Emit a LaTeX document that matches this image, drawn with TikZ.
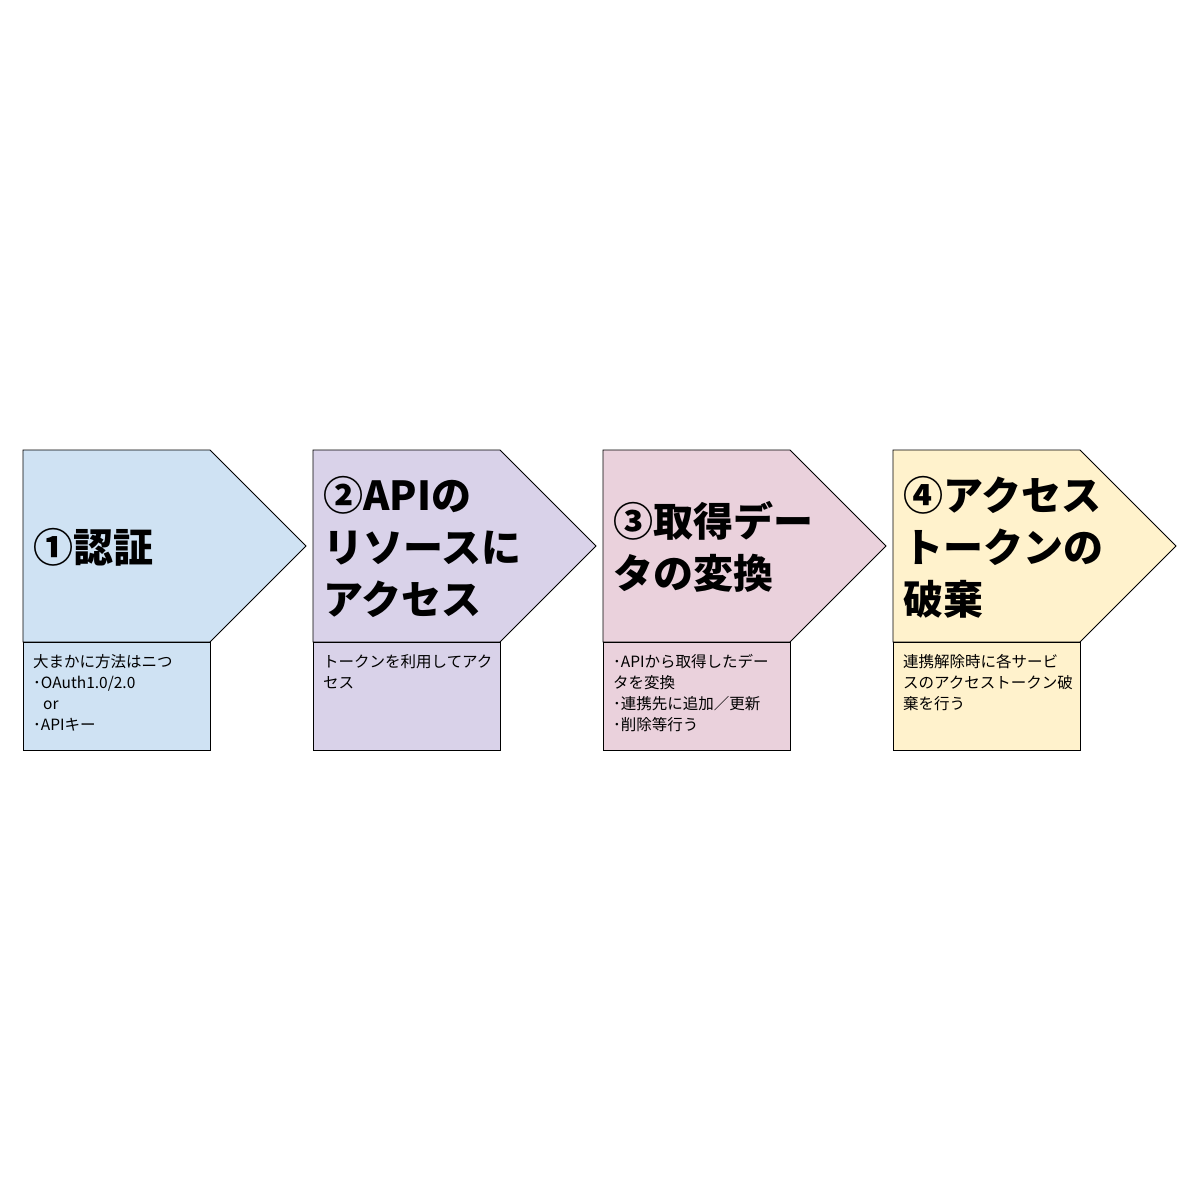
\documentclass[tikz,border=0pt]{standalone}
\usepackage{fontspec}
\setmainfont{Noto Sans CJK JP}
\usetikzlibrary{positioning}

\definecolor{stepblue}{HTML}{CFE2F3}
\definecolor{steppurple}{HTML}{D9D2E9}
\definecolor{steppink}{HTML}{EAD1DC}
\definecolor{stepyellow}{HTML}{FFF2CC}

\begin{document}
\begin{tikzpicture}[x=1pt,y=-1pt,
	stepshape/.style={draw=black, line width=0.8pt, line join=miter},
	headtext/.style={inner sep=0pt, anchor=west, align=left,
		font=\fontsize{40}{52}\selectfont\bfseries},
	bodytext/.style={inner sep=0pt, anchor=north west, align=left,
		font=\fontsize{15.5}{21}\selectfont}]
	\useasboundingbox (0,0) rectangle (1200,1200);
	\fill [white] (0,0) rectangle (1200,1200);
	% four steps, left to right
	\foreach \i/\x/\col/\head/\body in {
		1/23/stepblue/{①認証}/{大まかに方法はニつ\\･OAuth1.0/2.0\\\hspace*{10pt}or\\･APIキー},
		2/313/steppurple/{②APIの\\リソースに\\アクセス}/{トークンを利用してアク\\セス},
		3/603/steppink/{③取得デー\\タの変換}/{･APIから取得したデー\\タを変換\\･連携先に追加／更新\\･削除等行う},
		4/893/stepyellow/{④アクセス\\トークンの\\破棄}/{連携解除時に各サービ\\スのアクセストークン破\\棄を行う}}
	{
		\draw [stepshape, fill=\col] (\x,450) -- ++(187,0) -- ++(96,96) -- ++(-96,96) -- ++(-187,0) -- cycle;
		\draw [stepshape, fill=\col] (\x,642) rectangle ++(187,108);
		\node [headtext] (head\i) at (\x+10,547) {\head};
		\node [bodytext] (body\i) at (\x+10,654) {\body};
	}
\end{tikzpicture}
\end{document}
